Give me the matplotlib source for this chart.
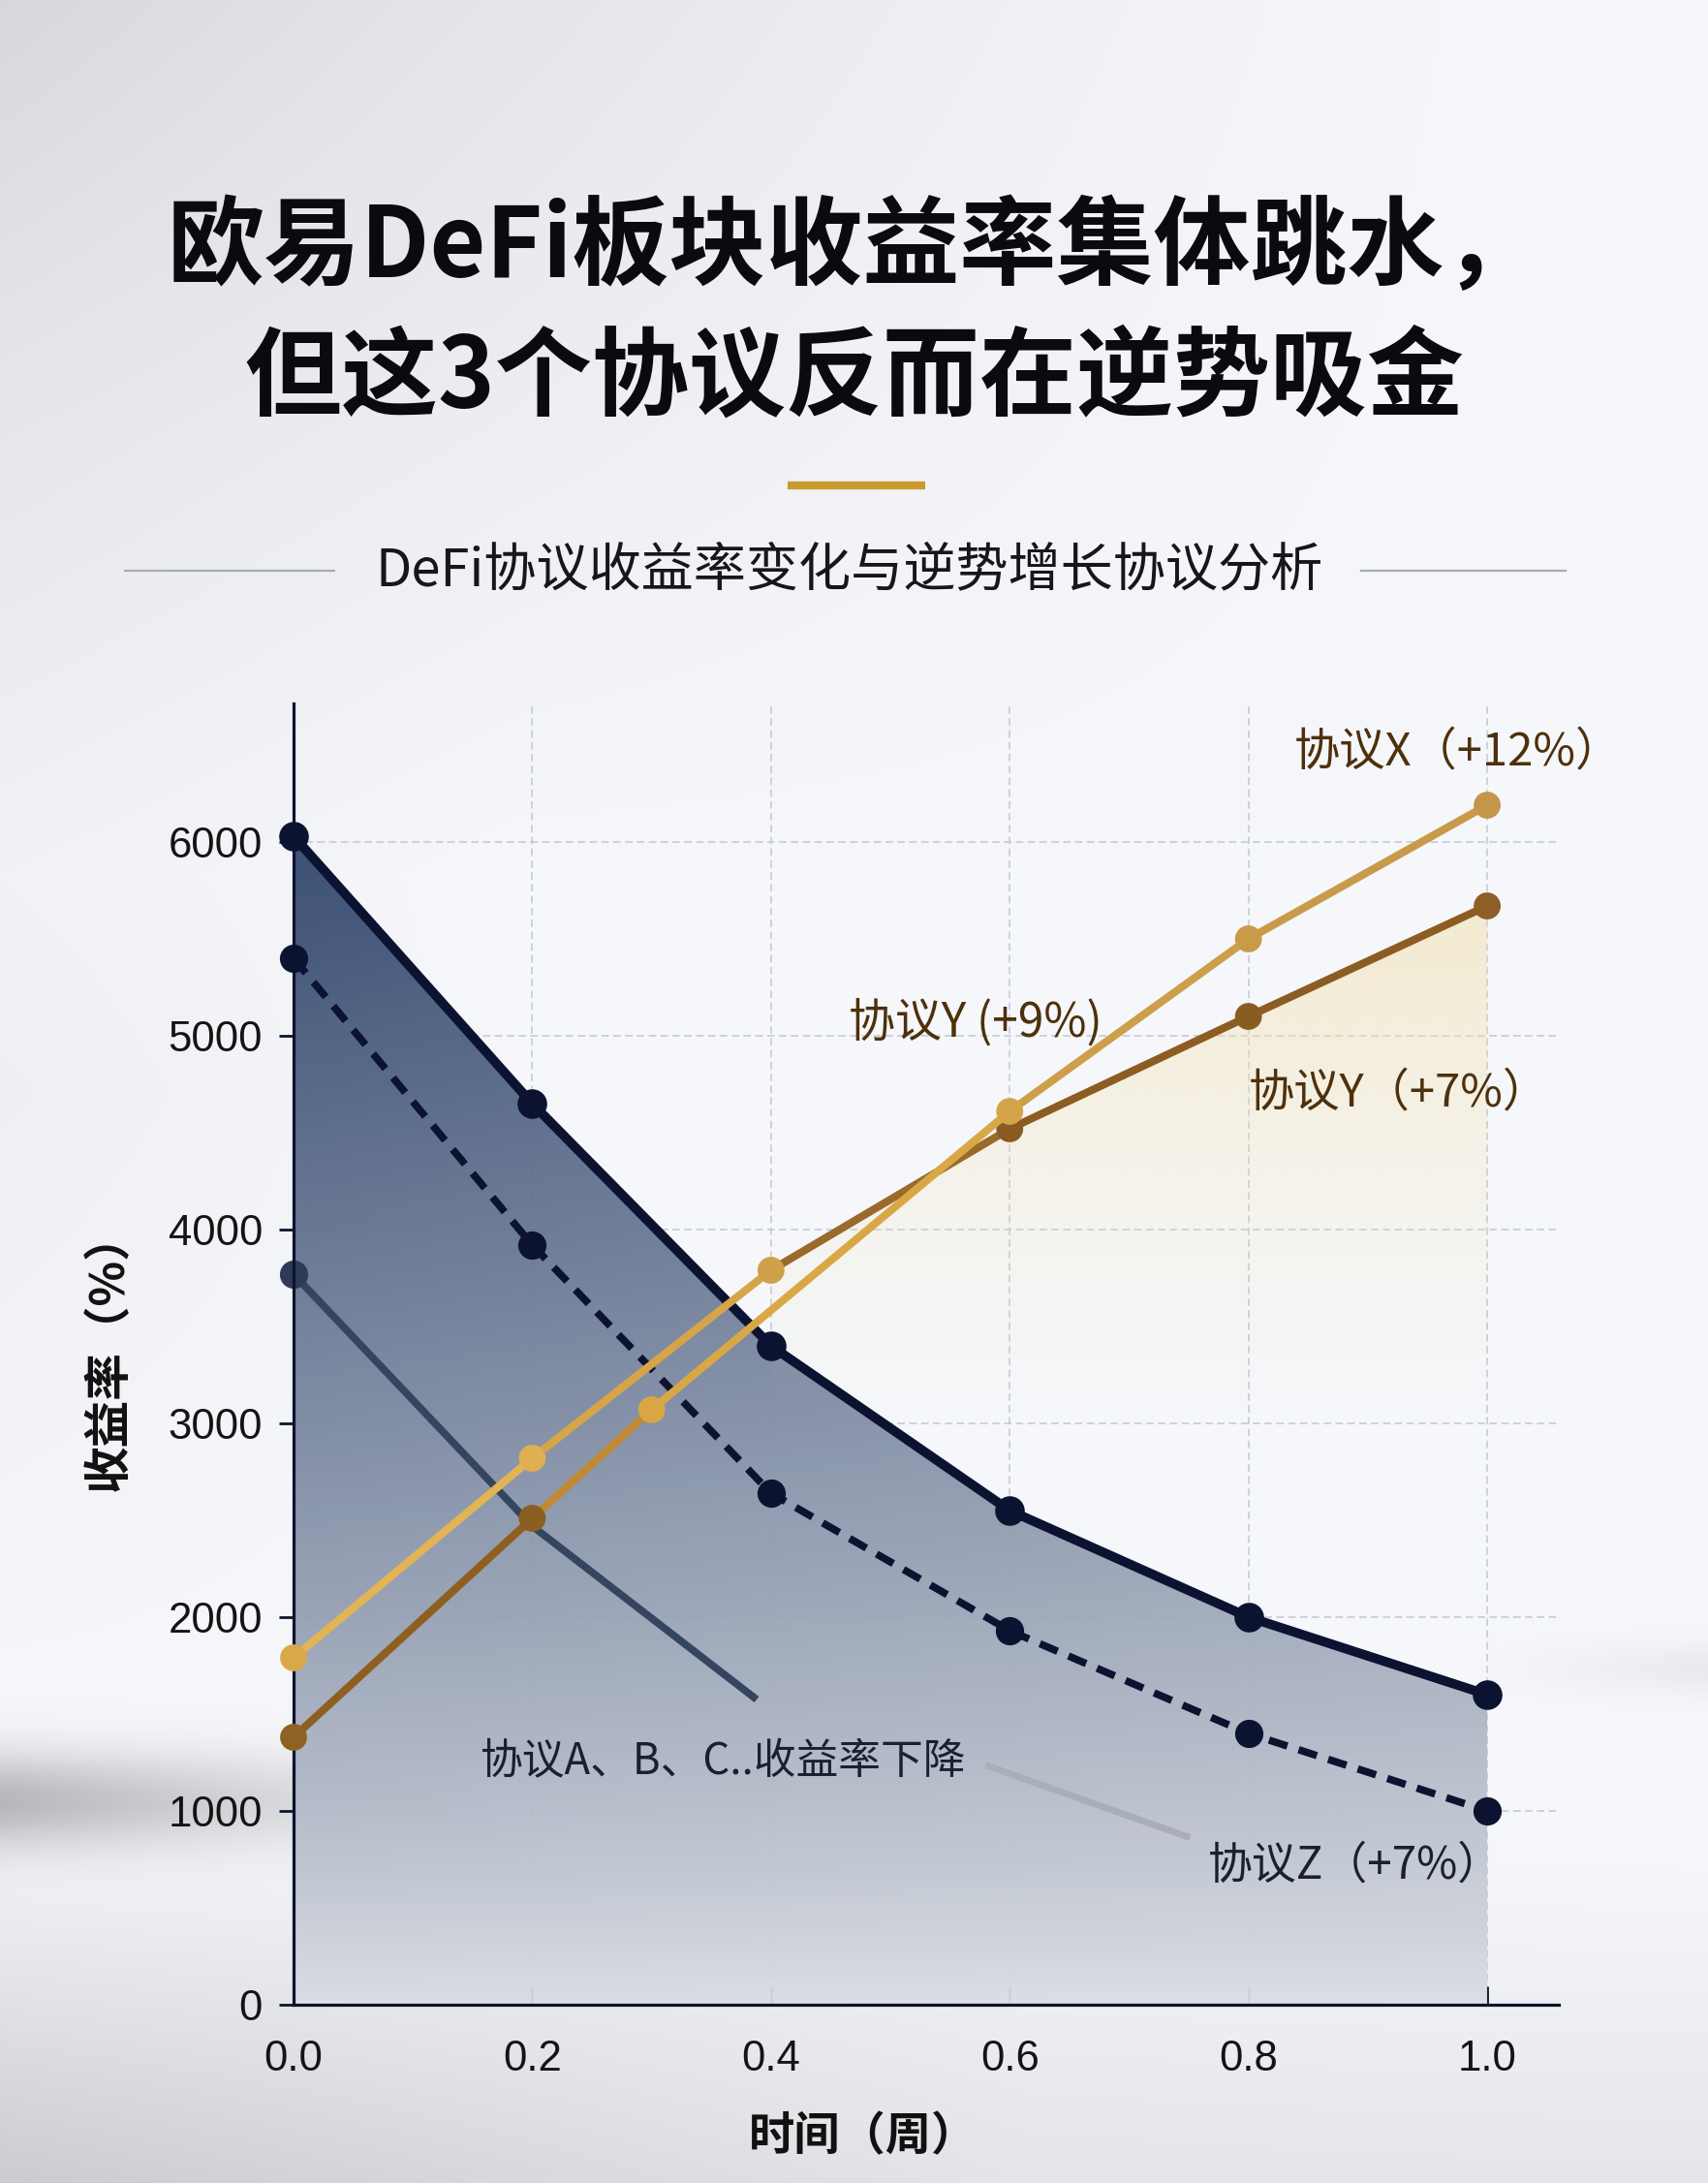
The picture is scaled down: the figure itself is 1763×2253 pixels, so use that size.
import numpy as np
import matplotlib
matplotlib.use('Agg')
import matplotlib.pyplot as plt
from matplotlib.colors import to_rgb
from matplotlib.lines import Line2D

plt.rcParams['font.family'] = ['Noto Sans CJK SC', 'DejaVu Sans']

# ---------------- data ----------------
weeks = [0.0, 0.2, 0.4, 0.6, 0.8, 1.0]
yield_top = [6030, 4650, 3400, 2550, 2000, 1600]        # solid navy (filled)
yield_dash = [5400, 3920, 2640, 1930, 1400, 1000]       # dashed navy
abc_weeks = [0.0, 0.2, 0.388]
abc_vals = [3770, 2470, 1575]                            # 协议A、B、C.. faded line
x_weeks = [0.0, 0.2, 0.3, 0.6, 0.8, 1.0]
x_vals = [1380, 2510, 3070, 4610, 5500, 6190]           # 协议X (+12%)
y_weeks = [0.0, 0.2, 0.4, 0.6, 0.8, 1.0]
y_vals = [1790, 2820, 3790, 4520, 5100, 5670]           # 协议Y (+7%)
leader_weeks = [0.58, 0.751]
leader_vals = [1236, 862]
xticks = [0.0, 0.2, 0.4, 0.6, 0.8, 1.0]
yticks = [0, 1000, 2000, 3000, 4000, 5000, 6000]

title1 = '欧易DeFi板块收益率集体跳水，'
title2 = '但这3个协议反而在逆势吸金'
subtitle = 'DeFi协议收益率变化与逆势增长协议分析'
xlabel = '时间（周）'
ylabel = '收益率（%）'

# styles (colours per segment / marker)
x_seg_colors = ['#8e5f1f', '#c08a35', '#d9a846', '#cd9f4a', '#c99a4a']
x_mk_colors = ['#8f6122', '#8b5f20', '#d9a644', '#d3a548', '#c99a48', '#c4954a']
y_seg_colors = ['#e2b454', '#d6a548', '#9a6a2a', '#8c5c22', '#8c5c22']
y_mk_colors = ['#d9a948', '#e0b050', '#cf9f4a', '#8a5a22', '#8b5c22', '#8d5e25']

W_PX, H_PX = 1763, 2253
fig = plt.figure(figsize=(W_PX / 100, H_PX / 100), dpi=100)

# ---------------- background ----------------
bg = fig.add_axes([0, 0, 1, 1], zorder=-10)
Hh, Ww = 451, 353
yy, xx = np.mgrid[0:1:Hh * 1j, 0:1:Ww * 1j]
val = 0.975 + 0.0 * xx
val -= 0.12 * np.clip(1 - xx / 0.95, 0, 1) ** 1.5 * np.clip(1 - yy / 0.40, 0, 1)
val -= 0.03 * np.clip(1 - xx / 0.3, 0, 1) * np.clip(1 - np.abs(yy - 0.5) / 0.3, 0, 1)
val -= 0.17 * np.clip(1 - xx / 1.15, 0, 1) ** 1.2 * np.clip((yy - 0.84) / 0.16, 0, 1)
val -= 0.05 * np.clip((xx - 0.6) / 0.4, 0, 1) * np.clip((yy - 0.85) / 0.15, 0, 1)
val -= 0.25 * np.exp(-((yy - 0.826) / 0.022) ** 2) * np.clip(1 - xx / 0.36, 0, 1) ** 1.2
val -= 0.05 * np.exp(-((yy - 0.765) / 0.012) ** 2) * np.clip((xx - 0.86) / 0.14, 0, 1)
rgb = np.stack([val * 0.988, val * 0.994, np.minimum(val * 1.004 + 0.004, 1)], axis=-1)
bg.imshow(np.clip(rgb, 0, 1), extent=[0, 1, 0, 1], aspect='auto', interpolation='bicubic', origin='upper')
bg.set_axis_off()

# ---------------- header ----------------
fig.text(0.5, 1 - 256 / H_PX, title1, ha='center', va='center', fontsize=72,
         weight='heavy', color='#0b0b0f')
fig.text(0.5, 1 - 391 / H_PX, title2, ha='center', va='center', fontsize=72,
         weight='heavy', color='#0b0b0f')
fig.add_artist(Line2D([813 / W_PX, 955 / W_PX], [1 - 501 / H_PX] * 2, transform=fig.transFigure,
                      color='#c99a2e', lw=6, solid_capstyle='butt'))
fig.text(877 / W_PX, 1 - 589 / H_PX, subtitle, ha='center', va='center', fontsize=39, color='#16171c')
for x0, x1 in [(129, 345), (1405, 1616)]:
    fig.add_artist(Line2D([x0 / W_PX, x1 / W_PX], [1 - 589 / H_PX] * 2, transform=fig.transFigure,
                          color='#a9acb2', lw=1.6))

# ---------------- axes ----------------
L, R, B, T = 303, 1609, 2069, 726
ax = fig.add_axes([L / W_PX, 1 - B / H_PX, (R - L) / W_PX, (B - T) / H_PX])
ax.patch.set_alpha(0)

# gradient fill under top navy line
poly = ax.fill_between(weeks, yield_top, 0, facecolor='none', edgecolor='none')
gy, gx = np.mgrid[0:1:300j, 0:1:200j]   # gy: bottom->top
dark = np.array(to_rgb('#33486e'))
light = np.array(to_rgb('#dcdfe5'))
d = np.clip(gy * (6100 / 6000) * (1 - 0.25 * gx), 0, 1) ** 0.8
img = light[None, None, :] * (1 - d[..., None]) + dark[None, None, :] * d[..., None]
im = ax.imshow(img, extent=[0, 1.0, 0, 6100], origin='lower', aspect='auto',
               interpolation='bicubic', zorder=1, alpha=0.95)
im.set_clip_path(poly.get_paths()[0], transform=ax.transData)

# cream glow under protocol Y line
poly2 = ax.fill_between(y_weeks[2:], y_vals[2:], 0, facecolor='none', edgecolor='none')
cy = np.linspace(0, 6000, 300)
alpha = np.clip((cy - 3000) / (5700 - 3000), 0, 1) ** 1.3 * 0.6
cream = np.zeros((300, 1, 4))
cream[..., :3] = to_rgb('#f3e2b2')
cream[:, 0, 3] = alpha
im2 = ax.imshow(cream, extent=[0.4, 1.0, 0, 6000], origin='lower', aspect='auto',
                interpolation='bicubic', zorder=1.5)
im2.set_clip_path(poly2.get_paths()[0], transform=ax.transData)

navy = '#0b1330'
ax.plot(abc_weeks, abc_vals, color='#36455f', lw=5.5, zorder=3, solid_capstyle='butt',
        marker='o', ms=20, markevery=[0], mfc='#2d3b57', mec='#2d3b57', clip_on=False)
ax.plot(leader_weeks, leader_vals, color='#a9aeb8', lw=5, zorder=3, solid_capstyle='butt')
ax.plot(weeks, yield_dash, color=navy, lw=5.5, dashes=(2.6, 1.6), marker='o', ms=20,
        zorder=5, clip_on=False)
ax.plot(weeks, yield_top, color=navy, lw=7, marker='o', ms=21, zorder=6, clip_on=False)

for xs, ys, segc, mkc, z in [(y_weeks, y_vals, y_seg_colors, y_mk_colors, 7),
                              (x_weeks, x_vals, x_seg_colors, x_mk_colors, 8)]:
    for i in range(len(xs) - 1):
        ax.plot(xs[i:i + 2], ys[i:i + 2], color=segc[i], lw=5.8, zorder=z,
                solid_capstyle='round', clip_on=False)
    ax.scatter(xs, ys, s=20 ** 2, c=mkc, zorder=z + 0.5, linewidths=0, clip_on=False)

# annotations
brown_txt = '#4e300c'
ax.text(0.838, 6465, '协议X（+12%）', fontsize=34, color=brown_txt, ha='left', va='center')
ax.text(0.465, 5065, '协议Y (+9%)', fontsize=34.5, color=brown_txt, ha='left', va='center')
ax.text(0.800, 4705, '协议Y（+7%）', fontsize=34, color=brown_txt, ha='left', va='center')
ax.text(0.157, 1255, '协议A、B、C..收益率下降', fontsize=31.5, color='#1b1f30', ha='left', va='center')
ax.text(0.766, 720, '协议Z（+7%）', fontsize=33, color='#1b1f30', ha='left', va='center')

ax.set_xlim(0, 1.06)
ax.set_ylim(0, 6715)
ax.set_xticks(xticks)
ax.set_yticks(yticks)
ax.grid(True, color='#c3c7cf', lw=1.1, ls=(0, (5, 3)), zorder=0)
ax.set_axisbelow(True)
for s in ['top', 'right']:
    ax.spines[s].set_visible(False)
for s in ['left', 'bottom']:
    ax.spines[s].set_color(navy)
    ax.spines[s].set_linewidth(2.3)
    ax.spines[s].set_zorder(4)
ax.tick_params(axis='y', direction='out', length=11, width=2, color=navy, pad=12,
               labelsize=31.5, labelcolor='#141414')
ax.tick_params(axis='x', direction='in', length=14, width=2, color=navy, pad=26,
               labelsize=31.5, labelcolor='#141414')
for lab in ax.get_xticklabels() + ax.get_yticklabels():
    lab.set_family(['Liberation Sans', 'DejaVu Sans'])

fig.text(112 / W_PX, 1 - 1394 / H_PX, ylabel, rotation=90, ha='center', va='center',
         fontsize=35, weight='bold', color='#111111')
fig.text(891 / W_PX, 1 - 2205 / H_PX, xlabel, ha='center', va='center',
         fontsize=34, weight='bold', color='#111111')

fig.savefig('out.png', dpi=100)
